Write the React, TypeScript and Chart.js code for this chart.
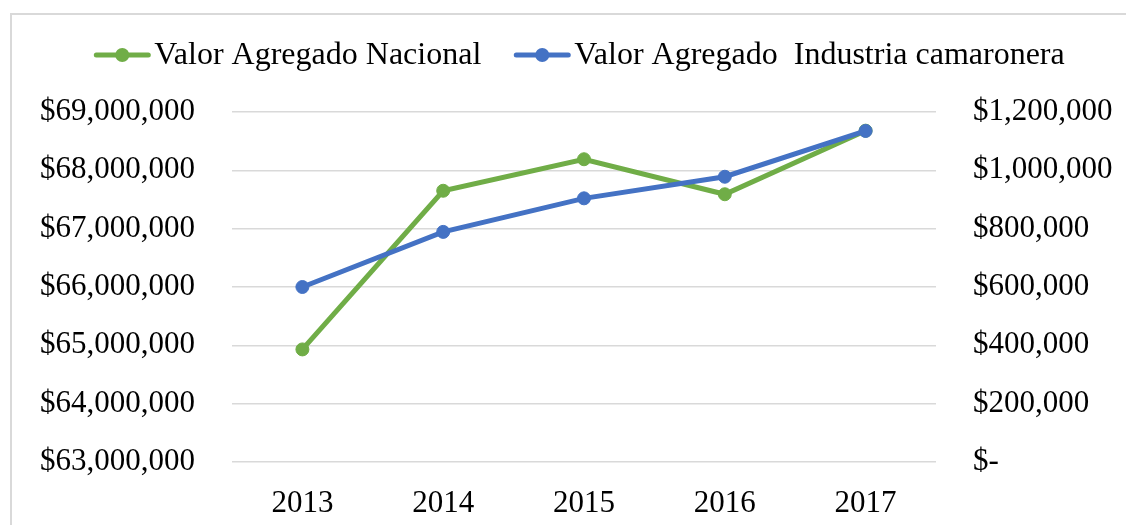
import React, { useEffect, useRef } from "react";
import { Chart, registerables } from "chart.js";

Chart.register(...registerables);

const years = ["2013", "2014", "2015", "2016", "2017"];
const valorNacional = [64930000, 67650000, 68190000, 67590000, 68680000];
const valorCamaronera = [600000, 789000, 904000, 978000, 1135000];
const leftTickLabels = [
  "$63,000,000",
  "$64,000,000",
  "$65,000,000",
  "$66,000,000",
  "$67,000,000",
  "$68,000,000",
  "$69,000,000",
];
const rightTickLabels = [
  "$-",
  "$200,000",
  "$400,000",
  "$600,000",
  "$800,000",
  "$1,000,000",
  "$1,200,000",
];
const seriesNames = ["Valor Agregado Nacional", "Valor Agregado  Industria camaronera"];
const seriesColors = ["#70AD47", "#4472C4"];

const FONT = "'Liberation Serif', 'Times New Roman', serif";
const FONT_SIZE = 31;
const LEGEND_FONT_SIZE = 32;

const legendPlugin = {
  id: "excelLegend",
  afterDraw(chart: any) {
    const ctx = chart.ctx;
    ctx.save();
    ctx.font = `${LEGEND_FONT_SIZE}px ${FONT}`;
    ctx.textBaseline = "middle";
    ctx.textAlign = "left";
    const markerW = 56;
    const textGap = 4;
    const itemGap = 33;
    const ds = chart.data.datasets;
    const widths = ds.map((d: any) => ctx.measureText(d.label).width);
    let total = 0;
    widths.forEach((w: number, i: number) => {
      total += markerW + textGap + w + (i < widths.length - 1 ? itemGap : 0);
    });
    let x = 579.5 - total / 2;
    const y = 55;
    ds.forEach((d: any, i: number) => {
      ctx.strokeStyle = d.borderColor;
      ctx.lineWidth = 5;
      ctx.lineCap = "round";
      ctx.beginPath();
      ctx.moveTo(x + 2, y);
      ctx.lineTo(x + markerW - 2, y);
      ctx.stroke();
      ctx.fillStyle = d.borderColor;
      ctx.beginPath();
      ctx.arc(x + markerW / 2, y, 7, 0, Math.PI * 2);
      ctx.fill();
      ctx.fillStyle = "#000";
      ctx.fillText(d.label, x + markerW + textGap, y + 1);
      x += markerW + textGap + widths[i] + itemGap;
    });
    ctx.restore();
  },
};

export default function App() {
  const ref = useRef<HTMLCanvasElement | null>(null);
  useEffect(() => {
    if (!ref.current) return;
    const chart = new Chart(ref.current, {
      type: "line",
      data: {
        labels: years,
        datasets: [
          {
            label: seriesNames[0],
            data: valorNacional,
            borderColor: seriesColors[0],
            backgroundColor: seriesColors[0],
            pointBackgroundColor: seriesColors[0],
            pointBorderColor: seriesColors[0],
            borderWidth: 5,
            pointRadius: 6.5,
            pointBorderWidth: 1,
            tension: 0,
            yAxisID: "y",
            order: 1,
          },
          {
            label: seriesNames[1],
            data: valorCamaronera,
            borderColor: seriesColors[1],
            backgroundColor: seriesColors[1],
            pointBackgroundColor: seriesColors[1],
            pointBorderColor: seriesColors[1],
            borderWidth: 5,
            pointRadius: 6.5,
            pointBorderWidth: 1,
            tension: 0,
            yAxisID: "y1",
            order: 0,
          },
        ],
      },
      options: {
        animation: false,
        responsive: false,
        maintainAspectRatio: false,
        layout: { padding: { top: 112, left: 0, right: 0, bottom: 0 } },
        plugins: {
          legend: { display: false },
          tooltip: { enabled: false },
        },
        scales: {
          x: {
            offset: true,
            grid: { display: false, drawTicks: false },
            border: { display: false },
            ticks: {
              color: "#000",
              font: { family: FONT, size: FONT_SIZE },
              padding: 23,
              maxRotation: 0,
            },
            afterFit(scale: any) {
              scale.height = 63;
            },
          },
          y: {
            position: "left",
            min: 63000000,
            max: 69000000,
            grid: { color: "#d9d9d9", lineWidth: 1.5, drawTicks: false },
            border: { display: false },
            ticks: {
              stepSize: 1000000,
              color: "#000",
              font: { family: FONT, size: FONT_SIZE },
              padding: 37,
              callback: (_v: any, i: number) => leftTickLabels[i],
            },
            afterFit(scale: any) {
              scale.width = 232;
            },
          },
          y1: {
            position: "right",
            min: 0,
            max: 1200000,
            grid: { display: false, drawTicks: false },
            border: { display: false },
            ticks: {
              stepSize: 200000,
              color: "#000",
              font: { family: FONT, size: FONT_SIZE },
              padding: 37,
              callback: (_v: any, i: number) => rightTickLabels[i],
            },
            afterFit(scale: any) {
              scale.width = 190;
            },
          },
        },
      },
      plugins: [legendPlugin],
    });
    return () => chart.destroy();
  }, []);

  return (
    <div
      style={{
        position: "absolute",
        left: 0,
        top: 0,
        width: 1126,
        height: 525,
        overflow: "hidden",
        background: "#fff",
      }}
    >
      <div
        style={{
          position: "absolute",
          left: 10,
          top: 13,
          width: 1300,
          height: 700,
          border: "2px solid #d9d9d9",
          boxSizing: "border-box",
        }}
      />
      <canvas
        ref={ref}
        width={1126}
        height={525}
        style={{ position: "absolute", left: 0, top: 0, width: 1126, height: 525 }}
      />
    </div>
  );
}
